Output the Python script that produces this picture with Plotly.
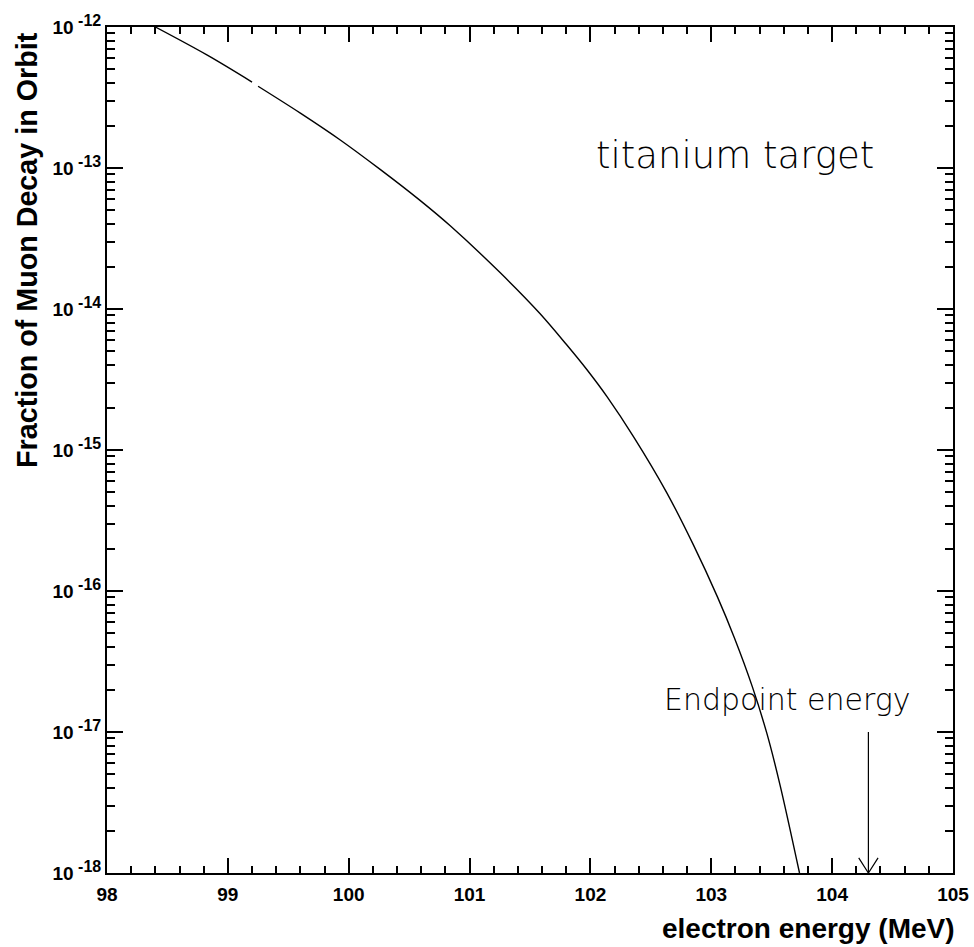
import plotly.graph_objects as go

# ---- data ----
energy_mev = [98.40, 98.83, 99.20, None, 99.25, 99.60, 99.93, 100.26, 100.59, 100.84,
              101.25, 101.58, 101.80, 101.97, 102.14, 102.36, 102.63, 102.85, 103.05,
              103.19, 103.34, 103.46, 103.57, 103.73]
fraction = [1.0e-12, 6.31e-13, 4.07e-13, None, 3.80e-13, 2.45e-13, 1.58e-13, 9.77e-14,
            5.89e-14, 3.89e-14, 1.82e-14, 9.33e-15, 5.62e-15, 3.72e-15, 2.37e-15,
            1.23e-15, 5.01e-16, 2.14e-16, 9.12e-17, 4.68e-17, 2.09e-17, 9.77e-18,
            4.17e-18, 1.0e-18]

endpoint_energy = 104.3
endpoint_arrow_top = 1.0e-17
endpoint_arrow_bottom = 1.0e-18

x_tick_vals = [98, 99, 100, 101, 102, 103, 104, 105]
x_tick_text = ["98", "99", "100", "101", "102", "103", "104", "105"]
y_tick_vals = [1e-18, 1e-17, 1e-16, 1e-15, 1e-14, 1e-13, 1e-12]
y_exponents = ["-18", "-17", "-16", "-15", "-14", "-13", "-12"]
y_tick_text = ["10<sup><span style='font-size:16px'> %s</span></sup>" % e for e in y_exponents]

BOLD = dict(family="Liberation Sans, Arial, sans-serif", color="black", weight="bold")
THIN = dict(family="DejaVu Sans, sans-serif", color="#000", weight=200)

fig = go.Figure()
fig.add_trace(go.Scatter(x=energy_mev, y=fraction, mode="lines",
                         line=dict(color="black", width=1.4, shape="spline", smoothing=0.9),
                         connectgaps=False, showlegend=False, hoverinfo="skip"))

# arrow shaft and open "V" head
fig.add_trace(go.Scatter(x=[endpoint_energy, endpoint_energy], y=[endpoint_arrow_top, endpoint_arrow_bottom],
                         mode="lines", line=dict(color="black", width=1.2),
                         showlegend=False, hoverinfo="skip"))
head_dx = 0.08
head_dy = 1.28
fig.add_trace(go.Scatter(x=[endpoint_energy - head_dx, endpoint_energy, endpoint_energy + head_dx],
                         y=[endpoint_arrow_bottom * head_dy, endpoint_arrow_bottom, endpoint_arrow_bottom * head_dy],
                         mode="lines", line=dict(color="black", width=1.2),
                         showlegend=False, hoverinfo="skip", cliponaxis=False))

fig.update_xaxes(range=[98, 105], tickvals=x_tick_vals, ticktext=x_tick_text,
                 ticks="inside", ticklen=15, tickwidth=1.5, tickcolor="black",
                 showline=True, linewidth=2, linecolor="black", mirror="allticks",
                 showgrid=False, zeroline=False, ticklabeloverflow="allow", automargin=False,
                 minor=dict(ticks="inside", ticklen=7, tickwidth=1.5, dtick=0.2, tickcolor="black", showgrid=False),
                 tickfont=dict(size=19, **BOLD), ticklabelstandoff=3)
fig.update_yaxes(type="log", range=[-18, -12], tickvals=y_tick_vals, ticktext=y_tick_text,
                 ticks="inside", ticklen=16, tickwidth=1.5, tickcolor="black",
                 showline=True, linewidth=2, linecolor="black", mirror="allticks",
                 showgrid=False, zeroline=False, ticklabeloverflow="allow", automargin=False,
                 minor=dict(ticks="inside", ticklen=8, tickwidth=1.5, dtick="D1", tickcolor="black", showgrid=False),
                 tickfont=dict(size=19, **BOLD), ticklabelstandoff=0)

fig.add_annotation(text="electron energy (MeV)", xref="paper", yref="paper",
                   x=1.0045, y=-0.066, xanchor="right", yanchor="middle",
                   showarrow=False, font=dict(size=28, **BOLD))
fig.add_annotation(text="Fraction of Muon Decay in Orbit", xref="paper", yref="paper",
                   x=-0.0946, y=0.9965, xanchor="center", yanchor="top", textangle=-90,
                   showarrow=False, font=dict(size=28.7, **BOLD))
fig.add_annotation(text="titanium target", x=103.2, y=-12.91, xref="x", yref="y",
                   showarrow=False, font=dict(size=37, **THIN))
fig.add_annotation(text="Endpoint energy", x=103.63, y=-16.77, xref="x", yref="y",
                   showarrow=False, font=dict(size=30, **THIN))

fig.update_layout(width=974, height=947, margin=dict(l=107, r=21, t=27, b=74, autoexpand=False),
                  paper_bgcolor="white", plot_bgcolor="white")

fig.write_html("out.html", config={"displayModeBar": False},
               post_script="document.body.style.margin='0px';")
